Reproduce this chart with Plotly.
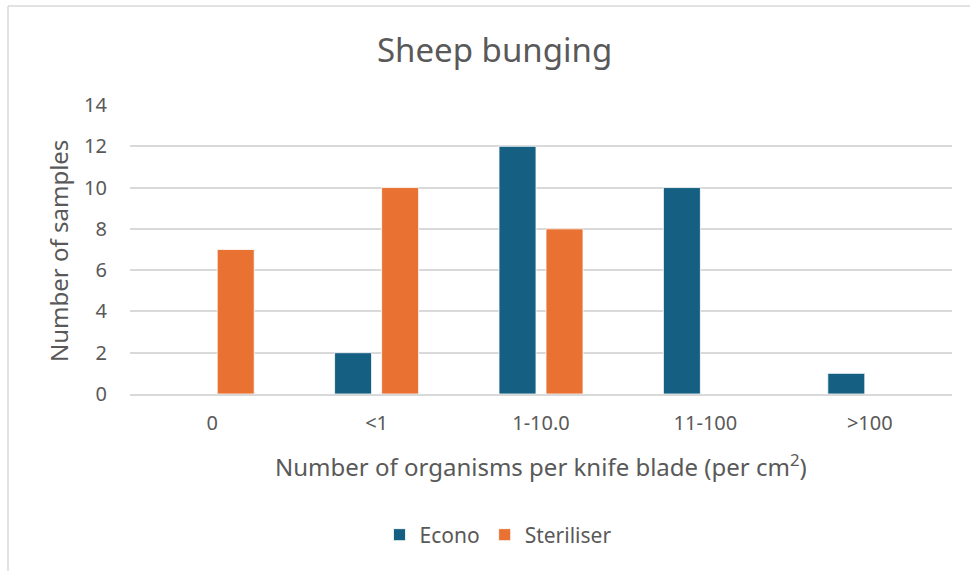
import plotly.graph_objects as go

# Data
categories = ["0", "<1", "1-10.0", "11-100", ">100"]
econo = [0, 2, 12, 10, 1]
steriliser = [7, 10, 8, 0, 0]
y_ticks = [0, 2, 4, 6, 8, 10, 12, 14]

W, H = 970, 571
L, R, T, B = 130, 18, 105, 177
plot_w = W - L - R
plot_h = H - T - B

def px_x(px):
    return (px - L) / plot_w

def px_y(py):
    return (H - B - py) / plot_h

FONT = "Noto Sans"
GREY = "#595959"

fig = go.Figure()
fig.add_trace(go.Bar(name="Econo", x=categories, y=econo,
                     marker=dict(color="#156082", line=dict(color="#ffffff", width=0.8))))
fig.add_trace(go.Bar(name="Steriliser", x=categories, y=steriliser,
                     marker=dict(color="#E97132", line=dict(color="#ffffff", width=0.8))))

fig.update_layout(
    width=W, height=H,
    margin=dict(l=L, r=R, t=T, b=B),
    paper_bgcolor="white", plot_bgcolor="white",
    barmode="group", bargap=0.428, bargroupgap=0.213,
    font=dict(family=FONT, color=GREY),
    showlegend=True,
    legend=dict(orientation="h", x=px_x(498), xanchor="center",
                y=px_y(535), yanchor="middle",
                font=dict(size=21, color=GREY), itemwidth=30,
                traceorder="normal"),
    xaxis=dict(type="category", showgrid=False, ticks="", showline=True,
               linecolor="#d9d9d9", linewidth=1.5, ticklabelstandoff=10,
               tickfont=dict(size=20, color=GREY)),
    yaxis=dict(range=[0, 14], tickvals=y_ticks, showgrid=True,
               gridcolor="#d9d9d9", gridwidth=1.5, zeroline=False,
               ticks="", showline=False, ticklabelstandoff=22,
               tickfont=dict(size=20, color=GREY)),
    annotations=[
        dict(text="Sheep bunging", x=px_x(494), y=px_y(50), xref="paper", yref="paper",
             showarrow=False, xanchor="center", yanchor="middle",
             font=dict(size=33, color=GREY, family=FONT)),
        dict(text="Number of organisms per knife blade (per cm<sup>2</sup>)",
             x=px_x(541), y=px_y(465), xref="paper", yref="paper",
             showarrow=False, xanchor="center", yanchor="middle",
             font=dict(size=24, color=GREY, family=FONT)),
        dict(text="Number of samples", x=px_x(58), y=px_y(251), xref="paper", yref="paper",
             showarrow=False, xanchor="center", yanchor="middle", textangle=-90,
             font=dict(size=24, color=GREY, family=FONT)),
    ],
    shapes=[
        dict(type="line", xref="paper", yref="paper", x0=px_x(8), x1=px_x(8),
             y0=px_y(6), y1=px_y(575), line=dict(color="#d9d9d9", width=1.5)),
        dict(type="line", xref="paper", yref="paper", x0=px_x(8), x1=px_x(975),
             y0=px_y(6), y1=px_y(6), line=dict(color="#d9d9d9", width=1.5)),
    ],
)

fig.write_html("out.html")
